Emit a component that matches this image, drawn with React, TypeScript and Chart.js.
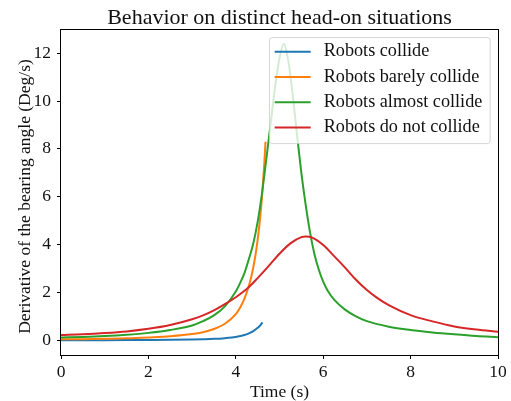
import React, { useEffect, useRef } from 'react';
import { Chart, registerables } from 'chart.js';

Chart.register(...registerables);

const FONT = '"Liberation Serif", "Times New Roman", serif';

const chartTitle = 'Behavior on distinct head-on situations';
const xTitle = 'Time (s)';
const yTitle = 'Derivative of the bearing angle (Deg/s)';
const xTicks = [0, 2, 4, 6, 8, 10];
const yTicks = [0, 2, 4, 6, 8, 10, 12];
const seriesLabels = ['Robots collide', 'Robots barely collide', 'Robots almost collide', 'Robots do not collide'];
const seriesColors = ['#1f77b4', '#ff7f0e', '#2ca02c', '#d62728'];

const collideT = [0, 0.5, 1, 1.5, 2, 2.5, 3, 3.25, 3.5, 3.75, 4, 4.1, 4.2, 4.3, 4.4, 4.5, 4.56, 4.61];
const collideV = [0.0, 0.003, 0.006, 0.01, 0.015, 0.022, 0.035, 0.045, 0.06, 0.09, 0.14, 0.18, 0.22, 0.29, 0.38, 0.52, 0.62, 0.75];

const barelyT = [0, 0.5, 1, 1.5, 2, 2.5, 3, 3.25, 3.5, 3.75, 4.0, 4.1, 4.2, 4.3, 4.35, 4.4, 4.45, 4.5, 4.55, 4.6, 4.65, 4.68];
const barelyV = [0.04, 0.045, 0.06, 0.08, 0.12, 0.17, 0.26, 0.34, 0.47, 0.69, 1.09, 1.37, 1.75, 2.28, 2.62, 3.04, 3.56, 4.2, 5.0, 6.0, 7.32, 8.3];

const almostT = [0, 0.5, 1, 1.5, 2, 2.5, 3, 3.25, 3.5, 3.75, 4.0, 4.1, 4.2, 4.3, 4.4, 4.5, 4.6, 4.7, 4.8, 4.9, 5.0, 5.1, 5.2, 5.3, 5.4, 5.5, 5.6, 5.7, 5.8, 5.9, 6.0, 6.1, 6.25, 6.5, 6.75, 7.0, 7.5, 8.0, 8.5, 9.0, 9.5, 10];
const almostV = [0.12, 0.14, 0.175, 0.23, 0.31, 0.43, 0.62, 0.8, 1.04, 1.42, 2.04, 2.4, 2.82, 3.4, 4.05, 4.95, 6.15, 7.6, 9.1, 10.6, 11.8, 12.4, 11.7, 10.3, 8.6, 7.0, 5.65, 4.5, 3.6, 2.95, 2.45, 2.08, 1.7, 1.28, 1.0, 0.8, 0.57, 0.43, 0.33, 0.25, 0.18, 0.13];

const notT = [0, 0.5, 1, 1.5, 2, 2.5, 3, 3.25, 3.5, 3.75, 4.0, 4.25, 4.5, 4.75, 5.0, 5.25, 5.5, 5.6, 5.75, 6.0, 6.25, 6.5, 6.75, 7.0, 7.25, 7.5, 8.0, 8.5, 9.0, 9.5, 10];
const notV = [0.22, 0.25, 0.3, 0.37, 0.48, 0.64, 0.88, 1.04, 1.25, 1.51, 1.8, 2.14, 2.6, 3.1, 3.62, 4.05, 4.31, 4.34, 4.29, 3.98, 3.52, 3.04, 2.53, 2.1, 1.75, 1.47, 1.05, 0.79, 0.58, 0.45, 0.36];

const seriesT = [collideT, barelyT, almostT, notT];
const seriesV = [collideV, barelyV, almostV, notV];

const textPlugin = {
  id: 'titles',
  afterDraw(chart: any) {
    const { ctx, chartArea: ca } = chart;
    ctx.save();
    ctx.fillStyle = '#111';
    ctx.textAlign = 'center';
    ctx.textBaseline = 'alphabetic';
    ctx.font = `22px ${FONT}`;
    ctx.fillText(chartTitle, (ca.left + ca.right) / 2, 23.5);
    ctx.font = `17.5px ${FONT}`;
    ctx.translate(29.5, (ca.top + ca.bottom) / 2 + 4);
    ctx.rotate(-Math.PI / 2);
    ctx.fillText(yTitle, 0, 0);
    ctx.restore();
  },
};

const framePlugin = {
  id: 'frameAndLegend',
  afterDatasetsDraw(chart: any) {
    const { ctx, chartArea: ca } = chart;
    ctx.save();
    ctx.strokeStyle = '#000';
    ctx.lineWidth = 1;
    ctx.strokeRect(Math.round(ca.left) - 0.5, Math.round(ca.top) - 0.5, Math.round(ca.right - ca.left) + 1, Math.round(ca.bottom - ca.top) + 1);

    const ds = chart.data.datasets;
    ctx.font = `18.2px ${FONT}`;
    const maxW = Math.max(...ds.map((d: any) => ctx.measureText(d.label).width));
    const padL = 6, handle = 36, gap = 13, padR = 7;
    const boxW = padL + handle + gap + maxW + padR;
    const right = ca.right - 8.7;
    const left = right - boxW;
    const top = ca.top + 7.3;
    const firstRow = 14.4, rowH = 25.3, lastPad = 15.8;
    const boxH = firstRow + rowH * (ds.length - 1) + lastPad;
    ctx.beginPath();
    ctx.roundRect(Math.round(left) + 0.5, Math.round(top) + 0.5, boxW, boxH, 3);
    ctx.fillStyle = 'rgba(255,255,255,0.8)';
    ctx.fill();
    ctx.strokeStyle = 'rgba(204,204,204,0.8)';
    ctx.stroke();
    ds.forEach((d: any, i: number) => {
      const y = top + firstRow + rowH * i;
      ctx.beginPath();
      ctx.strokeStyle = d.borderColor;
      ctx.lineWidth = 2;
      ctx.moveTo(left + padL, y);
      ctx.lineTo(left + padL + handle, y);
      ctx.stroke();
      ctx.fillStyle = '#111';
      ctx.textBaseline = 'middle';
      ctx.textAlign = 'left';
      ctx.fillText(d.label, left + padL + handle + gap, y);
    });
    ctx.restore();
  },
};

export default function App() {
  const ref = useRef<HTMLCanvasElement>(null);
  useEffect(() => {
    document.body.style.margin = '0';
    const tickFont = { family: FONT, size: 17.5 };
    const chart = new Chart(ref.current as HTMLCanvasElement, {
      type: 'line',
      data: {
        datasets: seriesLabels.map((label, k) => ({
          label,
          data: seriesT[k].map((t, i) => ({ x: t, y: seriesV[k][i] })),
          borderColor: seriesColors[k],
          backgroundColor: seriesColors[k],
          borderWidth: 2,
          pointRadius: 0,
          cubicInterpolationMode: 'monotone',
          fill: false,
          order: seriesLabels.length - k,
        })),
      },
      options: {
        animation: false,
        responsive: false,
        devicePixelRatio: 1,
        layout: { padding: { left: 0, right: 13, top: 30, bottom: 0 } },
        plugins: {
          legend: { display: false },
          tooltip: { enabled: false },
          title: { display: false },
        },
        scales: {
          x: {
            type: 'linear',
            min: 0,
            max: 10,
            afterBuildTicks: (s: any) => { s.ticks = xTicks.map((v) => ({ value: v })); },
            afterFit: (s: any) => { s.height = 46; },
            ticks: { font: tickFont, color: '#111', padding: 3, maxRotation: 0, autoSkip: false },
            grid: { drawOnChartArea: false, drawTicks: true, tickLength: 4, color: '#000', lineWidth: 1 },
            border: { display: false },
            title: {
              display: true,
              text: xTitle,
              color: '#111',
              font: { family: FONT, size: 17.5, lineHeight: 1 },
              padding: { top: 0, bottom: 0 },
            },
          },
          y: {
            type: 'linear',
            min: -0.615,
            max: 12.97,
            afterBuildTicks: (s: any) => { s.ticks = yTicks.map((v) => ({ value: v })); },
            afterFit: (s: any) => { s.width = 61; },
            ticks: { font: tickFont, color: '#111', padding: 6, autoSkip: false },
            grid: { drawOnChartArea: false, drawTicks: true, tickLength: 4, color: '#000', lineWidth: 1 },
            border: { display: false },
            title: { display: false, text: yTitle },
          },
        },
      },
      plugins: [framePlugin, textPlugin],
    } as any);
    return () => chart.destroy();
  }, []);
  return (
    <div style={{ position: 'absolute', left: 0, top: 0, width: 511, height: 401, background: '#fff' }}>
      <canvas ref={ref} width={511} height={401} style={{ width: 511, height: 401, display: 'block' }} />
    </div>
  );
}
